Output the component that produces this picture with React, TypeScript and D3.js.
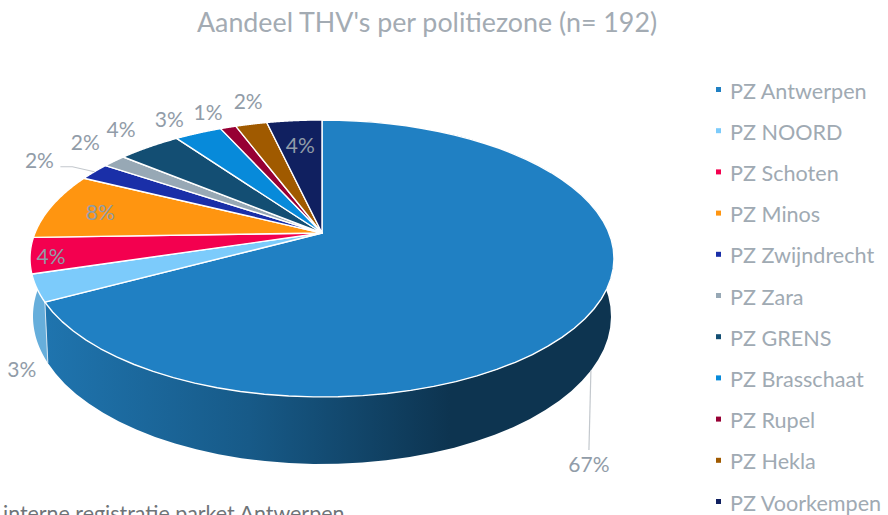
import React from "react";
import * as d3 from "d3";

const categories = ["PZ Antwerpen", "PZ NOORD", "PZ Schoten", "PZ Minos", "PZ Zwijndrecht", "PZ Zara", "PZ GRENS", "PZ Brasschaat", "PZ Rupel", "PZ Hekla", "PZ Voorkempen"];
// counts out of n = 192, estimated from the slice angles and the rounded percentages
const counts = [129, 6, 8, 15, 4, 3, 8, 6, 2, 4, 7];
const percentLabels = ["67%", "3%", "4%", "8%", "2%", "2%", "4%", "3%", "1%", "2%", "4%"];
const colors = ["#2080c3", "#7ccbfb", "#f3004f", "#ff9510", "#1a2fa8", "#97a8b5", "#134e73", "#078ada", "#970034", "#a05a00", "#102060"];

const title = "Aandeel THV's per politiezone (n= 192)";
const footnote = "interne registratie parket Antwerpen";

const width = 888;
const height = 515;
const font = "Lato, sans-serif";

// perspective of the tilted pie
const cx = 322;
const cy = 233;
const R = 287;
const S = 133.8;
const k = 0.184;
const depth = 57;
const shrink = 0.01;

// label placement per slice: radius in the pie plane plus a pixel nudge
const labelLayout = [
  { r: 1, dx: -5, dy: 156 },
  { r: 1, dx: -15, dy: 82 },
  { r: 0.93, dx: 0, dy: 3 },
  { r: 0.815, dx: 0, dy: 2 },
  { r: 1, dx: -55, dy: -11 },
  { r: 1, dx: -29, dy: -19 },
  { r: 1, dx: -28, dy: -17 },
  { r: 1, dx: -29, dy: -13 },
  { r: 1, dx: -20, dy: -15 },
  { r: 1, dx: -3, dy: -22 },
  { r: 0.75, dx: 0, dy: 0 },
];

const top = (a: number, r = 1): [number, number] => {
  const w = 1 + k * r * Math.cos(a);
  return [cx + (R * r * Math.sin(a)) / w, cy - (S * r * Math.cos(a)) / w];
};

const bottom = (a: number): [number, number] => {
  const w = 1 + k * Math.cos(a) + shrink;
  return [cx + (R * Math.sin(a)) / w, cy + (depth - S * Math.cos(a)) / w];
};

const pie = d3.pie<number>().value((d) => d).sort(null);
const slices = pie(counts);
const line = d3.line();

const sweep = (a0: number, a1: number, f: (a: number) => [number, number]) =>
  d3.range(0, 61).map((i) => f(a0 + ((a1 - a0) * i) / 60));

const slicePath = (a0: number, a1: number) =>
  line([[cx, cy], ...sweep(a0, a1, (a) => top(a))])! + "Z";

const wallPath = (a0: number, a1: number) =>
  line([...sweep(a0, a1, (a) => top(a)), ...sweep(a1, a0, bottom)])! + "Z";

const legendY = d3.scalePoint<string>().domain(categories).range([91, 503]);

export default function App() {
  const main = slices[0];
  const noord = slices[1];
  const mainMid = (main.startAngle + main.endAngle) / 2;
  const leaderStart = bottom(mainMid);
  const zw = slices[4];
  const zwRim = top((zw.startAngle + zw.endAngle) / 2);

  return (
    <svg width={width} height={height} style={{ position: "absolute", left: 0, top: 0, background: "#fff" }} fontFamily={font}>
      <defs>
        <linearGradient id="wallMain" gradientUnits="userSpaceOnUse" x1={47} x2={450} y1={0} y2={0}>
          <stop offset="0%" stopColor="#1f74ae" />
          <stop offset="50%" stopColor="#175a88" />
          <stop offset="100%" stopColor="#0d3450" />
        </linearGradient>
      </defs>

      <text x={427} y={32} textAnchor="middle" fontSize={26.8} fill="#a3abb3">{title}</text>

      {/* walls, the NOORD one runs on past its slice up to the silhouette */}
      <path d={wallPath(noord.startAngle, noord.endAngle + 0.3)} fill="#66aedb" />
      <path d={wallPath(main.startAngle, main.endAngle)} fill="url(#wallMain)" />
      <path d={line([top(main.endAngle), bottom(main.endAngle)])!} stroke="#d6e6f2" strokeWidth={1} fill="none" />

      {slices.map((s, i) => (
        <path key={categories[i]} d={slicePath(s.startAngle, s.endAngle)} fill={colors[i]} stroke="#fff" strokeWidth={1.4} strokeLinejoin="round" />
      ))}

      <path d={line([leaderStart, [leaderStart[0] - 2, 450]])!} stroke="#c3c8cd" strokeWidth={1.2} fill="none" />
      <path d={line([zwRim, [zwRim[0] - 22, zwRim[1] - 5], [zwRim[0] - 34, zwRim[1] - 5]])!} stroke="#c3c8cd" strokeWidth={1.2} fill="none" />

      {slices.map((s, i) => {
        const l = labelLayout[i];
        const [x, y] = top((s.startAngle + s.endAngle) / 2, l.r);
        return (
          <text key={categories[i]} x={x + l.dx} y={y + l.dy} dy="0.35em" textAnchor="middle" fontSize={21} fill="#919ca8">
            {percentLabels[i]}
          </text>
        );
      })}

      {categories.map((c, i) => (
        <g key={c}>
          <rect x={716} y={legendY(c)! - 4} width={5} height={5} fill={colors[i]} />
          <text x={730} y={legendY(c)!} dy="0.35em" fontSize={21.6} fill="#a0aab3">{c}</text>
        </g>
      ))}

      <text x={3} y={521} fontSize={21.4} fill="#6f7478">{footnote}</text>
    </svg>
  );
}
